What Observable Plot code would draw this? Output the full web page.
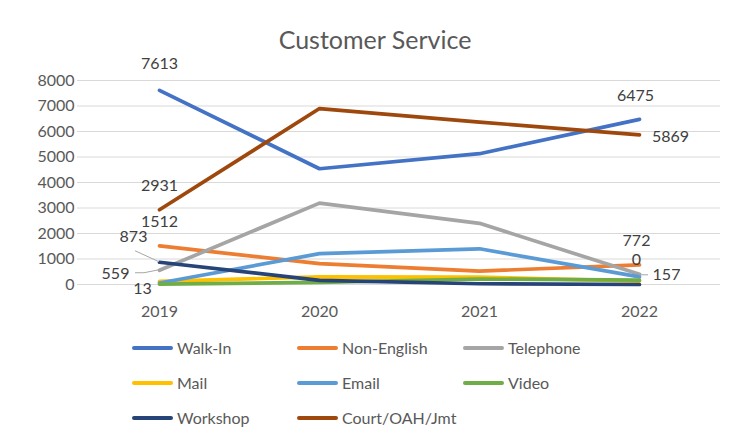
<!DOCTYPE html>
<html><head><meta charset="utf-8">
<script src="https://cdn.jsdelivr.net/npm/d3@7"></script>
<script src="https://cdn.jsdelivr.net/npm/@observablehq/plot@0.6"></script>
<style>
body{margin:0;background:#fff;}
#chart{position:relative;width:732px;height:441px;font-family:Lato,sans-serif;color:#595959;overflow:hidden;background:#fff}
#title{position:absolute;left:18px;top:21px;width:714px;text-align:center;font-size:25px;line-height:36px;color:#595959;z-index:2}
#plot{position:absolute;left:0;top:40px}
.lg{position:absolute;height:20px;font-size:16px;line-height:20px;color:#595959;white-space:nowrap}
.lg i{position:absolute;left:0;top:8px;width:41px;height:4px;border-radius:2px}
.lg span{position:absolute;left:45px;top:0}
</style></head><body>
<div id="chart"><div id="plot"></div><div id="title">Customer Service</div><div id="legend"></div></div>
<script>
const years = [2019, 2020, 2021, 2022];
const seriesNames = ["Walk-In", "Non-English", "Telephone", "Mail", "Email", "Video", "Workshop", "Court/OAH/Jmt"];
const seriesColors = ["#4472C4", "#ED7D31", "#A5A5A5", "#FFC000", "#5B9BD5", "#70AD47", "#264478", "#9E480E"];
const walkIn     = [7613, 4540, 5130, 6475];
const nonEnglish = [1512, 820, 525, 772];
const telephone  = [559, 3190, 2400, 400];
const mail       = [120, 300, 290, 130];
const email      = [60, 1210, 1400, 300];
const video      = [13, 85, 215, 170];
const workshop   = [873, 160, 30, 0];
const court      = [2931, 6900, 6370, 5869];
const yTicks = [0, 1000, 2000, 3000, 4000, 5000, 6000, 7000, 8000];
const dataLabels = [
  {series: "Walk-In", year: 2019, text: "7613"},
  {series: "Court/OAH/Jmt", year: 2019, text: "2931"},
  {series: "Non-English", year: 2019, text: "1512"},
  {series: "Workshop", year: 2019, text: "873"},
  {series: "Telephone", year: 2019, text: "559"},
  {series: "Video", year: 2019, text: "13"},
  {series: "Walk-In", year: 2022, text: "6475"},
  {series: "Court/OAH/Jmt", year: 2022, text: "5869"},
  {series: "Non-English", year: 2022, text: "772"},
  {series: "Workshop", year: 2022, text: "0"},
  {series: "Telephone", year: 2022, text: "157"}
];

// label placement (pixel offsets from the data point) and leader lines
const placement = {
  "7613": {dx: 0, dy: -26},
  "2931": {dx: 0, dy: -24},
  "1512": {dx: 0, dy: -24},
  "873":  {dx: -26, dy: -25, leader: [[-24, -11], [0, 0]]},
  "559":  {dx: -44, dy: 4, leader: [[-24, 3], [-15, 3], [0, 0]]},
  "13":   {dx: -17, dy: 5},
  "6475": {dx: -4, dy: -24},
  "5869": {dx: 31, dy: 2},
  "772":  {dx: -3, dy: -24},
  "0":    {dx: -3, dy: -25},
  "157":  {dx: 27, dy: 1, leader: [[0, 1], [9, 1]]}
};

const valuesBySeries = {
  "Walk-In": walkIn, "Non-English": nonEnglish, "Telephone": telephone, "Mail": mail,
  "Email": email, "Video": video, "Workshop": workshop, "Court/OAH/Jmt": court
};
const table = [];
for (const s of seriesNames) valuesBySeries[s].forEach((v, i) => table.push({series: s, year: years[i], value: v}));
const labelRows = dataLabels.map(d => ({...d, value: valuesBySeries[d.series][years.indexOf(d.year)]}));

const leaderMark = (index, scales) => {
  const g = d3.create("svg:g").attr("fill", "none").attr("stroke", "#A6A6A6").attr("stroke-width", 1);
  for (const d of labelRows) {
    const p = placement[d.text];
    if (!p.leader) continue;
    const px = scales.x(d.year), py = scales.y(d.value);
    g.append("path").attr("d", "M" + p.leader.map(([a, b]) => [px + a, py + b].join(",")).join("L"));
  }
  return g.node();
};

const textMarks = labelRows.map(d => Plot.text([d], {
  x: "year", y: "value", text: "text",
  dx: placement[d.text].dx, dy: placement[d.text].dy,
  fontSize: 16, fill: "#404040"
}));

const plot = Plot.plot({
  width: 732, height: 290,
  marginTop: 40, marginBottom: 46, marginLeft: 77, marginRight: 12,
  style: {fontFamily: "Lato, sans-serif", fontSize: "16px", color: "#595959", background: "transparent"},
  x: {type: "point", domain: years, padding: 0.5, label: null, tickSize: 0, tickPadding: 21, tickFormat: d => String(d)},
  y: {domain: [0, 8000], ticks: yTicks, label: null, tickSize: 0, tickPadding: 3, tickFormat: d => String(d)},
  color: {domain: seriesNames, range: seriesColors},
  marks: [
    Plot.ruleY(yTicks, {stroke: "#D9D9D9", strokeWidth: 1}),
    Plot.line(table, {x: "year", y: "value", z: "series", stroke: "series", strokeWidth: 3.7, strokeLinejoin: "round", strokeLinecap: "round"}),
    leaderMark,
    ...textMarks
  ]
});
document.getElementById("plot").appendChild(plot);

// legend
const legendCols = [132, 297, 463];
const legendRows = [338, 373, 408];
const legend = document.getElementById("legend");
seriesNames.forEach((s, i) => {
  const el = document.createElement("div");
  el.className = "lg";
  el.style.left = legendCols[i % 3] + "px";
  el.style.top = legendRows[Math.floor(i / 3)] + "px";
  el.innerHTML = `<i style="background:${seriesColors[i]}"></i><span>${s}</span>`;
  legend.appendChild(el);
});
</script>
</body></html>
